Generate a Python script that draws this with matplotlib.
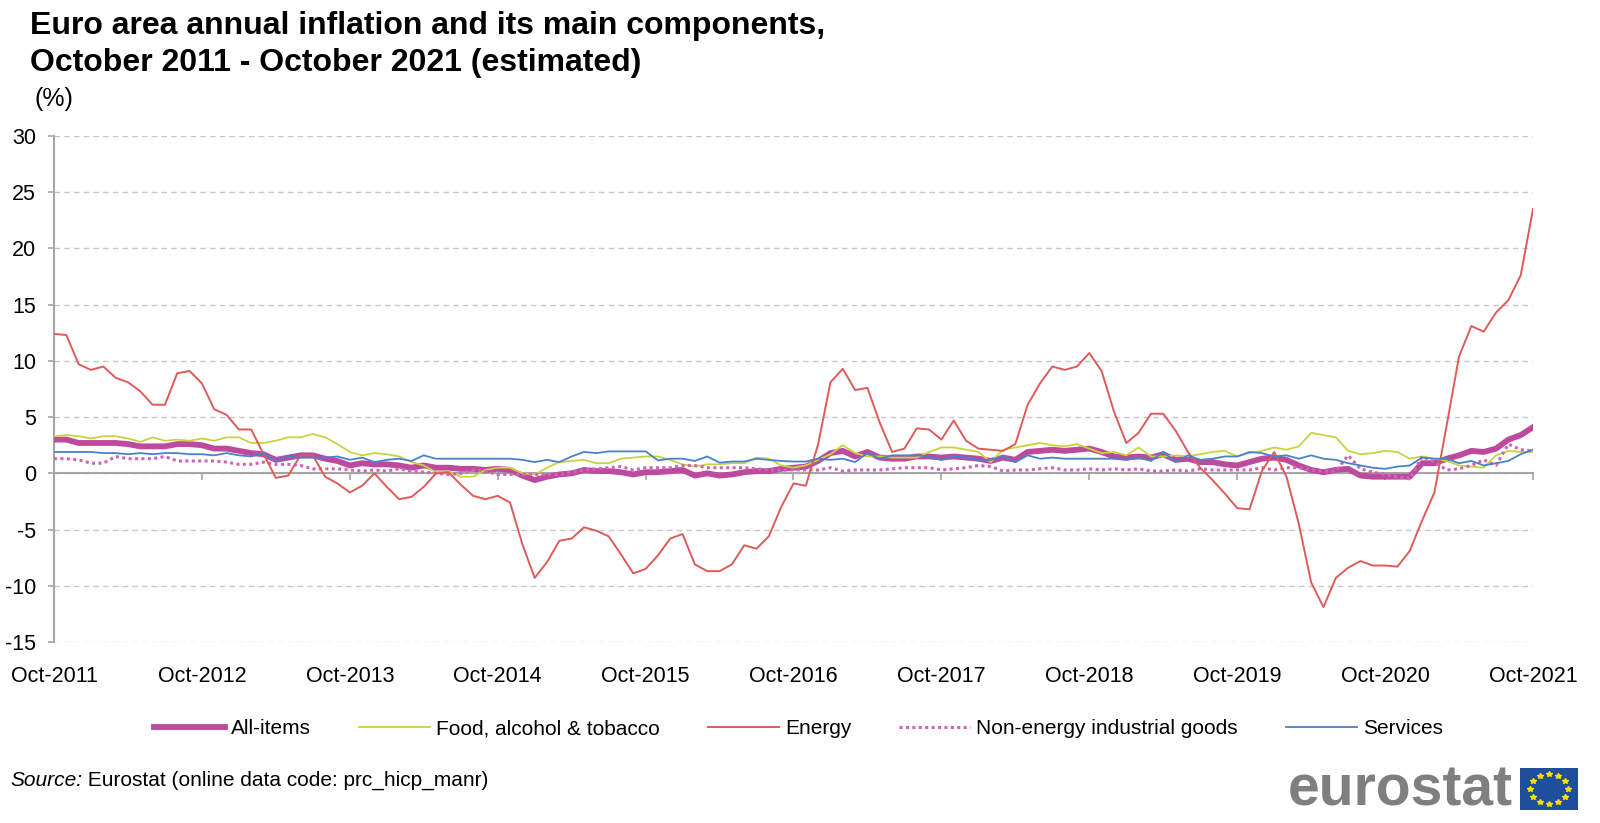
import matplotlib

matplotlib.use("Agg")
import matplotlib.pyplot as plt
import numpy as np
from matplotlib.lines import Line2D

plt.rcParams["font.family"] = ["Liberation Sans", "DejaVu Sans"]
plt.rcParams["axes.unicode_minus"] = False

# monthly annual rates (%), Oct-2011 .. Oct-2021
tick_labels = [f"Oct-{y}" for y in range(2011, 2022)]

all_items = [
    3.0, 3.0, 2.7,
    2.7, 2.7, 2.7, 2.6, 2.4, 2.4, 2.4, 2.6, 2.6, 2.5, 2.2, 2.2,
    2.0, 1.8, 1.7, 1.2, 1.4, 1.6, 1.6, 1.3, 1.1, 0.7, 0.9, 0.8,
    0.8, 0.7, 0.5, 0.7, 0.5, 0.5, 0.4, 0.4, 0.3, 0.4, 0.3, -0.2,
    -0.6, -0.3, -0.1, 0.0, 0.3, 0.2, 0.2, 0.1, -0.1, 0.1, 0.1, 0.2,
    0.3, -0.2, 0.0, -0.2, -0.1, 0.1, 0.2, 0.2, 0.4, 0.5, 0.6, 1.1,
    1.8, 2.0, 1.5, 1.9, 1.4, 1.3, 1.3, 1.5, 1.5, 1.4, 1.5, 1.4,
    1.3, 1.1, 1.4, 1.2, 1.9, 2.0, 2.1, 2.0, 2.1, 2.2, 1.9, 1.5,
    1.4, 1.5, 1.4, 1.7, 1.2, 1.3, 1.0, 1.0, 0.8, 0.7, 1.0, 1.3,
    1.4, 1.2, 0.7, 0.3, 0.1, 0.3, 0.4, -0.2, -0.3, -0.3, -0.3, -0.3,
    0.9, 0.9, 1.3, 1.6, 2.0, 1.9, 2.2, 3.0, 3.4, 4.1,
]

food = [
    3.3, 3.4, 3.3,
    3.1, 3.3, 3.3, 3.1, 2.8, 3.2, 2.9, 3.0, 2.9, 3.1, 2.9, 3.2,
    3.2, 2.7, 2.7, 2.9, 3.2, 3.2, 3.5, 3.2, 2.6, 1.9, 1.6, 1.8,
    1.7, 1.5, 1.0, 0.7, 0.1, 0.2, -0.3, -0.3, 0.3, 0.5, 0.5, 0.0,
    -0.1, 0.5, 1.0, 1.1, 1.2, 0.9, 0.9, 1.3, 1.4, 1.5, 1.5, 1.2,
    0.8, 0.6, 0.8, 0.8, 0.9, 0.9, 1.4, 1.3, 0.7, 0.5, 0.7, 1.2,
    1.7, 2.5, 1.8, 1.5, 1.5, 1.4, 1.4, 1.4, 1.9, 2.3, 2.3, 2.1,
    1.9, 1.0, 2.1, 2.3, 2.5, 2.7, 2.5, 2.4, 2.6, 2.2, 1.8, 1.9,
    1.6, 2.3, 1.5, 1.5, 1.6, 1.5, 1.7, 1.9, 2.0, 1.5, 1.8, 2.0,
    2.3, 2.1, 2.4, 3.6, 3.4, 3.2, 2.0, 1.7, 1.8, 2.0, 1.9, 1.3,
    1.5, 1.3, 1.1, 0.7, 0.6, 0.5, 1.6, 2.0, 1.9, 1.9,
]

energy = [
    12.4, 12.3, 9.7,
    9.2, 9.5, 8.5, 8.1, 7.3, 6.1, 6.1, 8.9, 9.1, 8.0, 5.7, 5.2,
    3.9, 3.9, 1.7, -0.4, -0.2, 1.6, 1.6, -0.3, -0.9, -1.7, -1.1, 0.0,
    -1.2, -2.3, -2.1, -1.2, 0.0, 0.1, -1.0, -2.0, -2.3, -2.0, -2.6, -6.3,
    -9.3, -7.9, -6.0, -5.8, -4.8, -5.1, -5.6, -7.2, -8.9, -8.5, -7.3, -5.8,
    -5.4, -8.1, -8.7, -8.7, -8.1, -6.4, -6.7, -5.6, -3.0, -0.9, -1.1, 2.6,
    8.1, 9.3, 7.4, 7.6, 4.5, 1.9, 2.2, 4.0, 3.9, 3.0, 4.7, 2.9,
    2.2, 2.1, 2.0, 2.6, 6.1, 8.0, 9.5, 9.2, 9.5, 10.7, 9.1, 5.5,
    2.7, 3.6, 5.3, 5.3, 3.8, 1.9, 0.5, -0.6, -1.8, -3.1, -3.2, 0.2,
    1.9, -0.3, -4.5, -9.7, -11.9, -9.3, -8.4, -7.8, -8.2, -8.2, -8.3, -6.9,
    -4.2, -1.7, 4.3, 10.4, 13.1, 12.6, 14.3, 15.4, 17.6, 23.5,
]

neig = [
    1.3, 1.3, 1.2,
    0.9, 0.9, 1.5, 1.3, 1.3, 1.3, 1.5, 1.1, 1.1, 1.1, 1.1, 1.0,
    0.8, 0.8, 1.0, 0.8, 0.8, 0.7, 0.4, 0.4, 0.4, 0.3, 0.2, 0.3,
    0.2, 0.4, 0.2, 0.1, 0.0, -0.1, 0.0, 0.3, 0.2, -0.1, -0.1, -0.1,
    -0.1, -0.1, -0.1, 0.1, 0.3, 0.4, 0.5, 0.6, 0.3, 0.5, 0.5, 0.5,
    0.7, 0.7, 0.5, 0.5, 0.5, 0.5, 0.4, 0.3, 0.3, 0.3, 0.3, 0.3,
    0.5, 0.2, 0.3, 0.3, 0.3, 0.4, 0.5, 0.5, 0.5, 0.3, 0.4, 0.5,
    0.7, 0.6, 0.2, 0.3, 0.3, 0.4, 0.5, 0.3, 0.3, 0.4, 0.3, 0.4,
    0.3, 0.4, 0.2, 0.2, 0.3, 0.2, 0.4, 0.3, 0.3, 0.3, 0.3, 0.5,
    0.3, 0.5, 0.5, 0.3, 0.2, 0.2, 1.6, 0.4, 0.1, -0.1, -0.3, -0.5,
    1.5, 1.0, 0.3, 0.4, 0.7, 1.2, 0.7, 2.6, 2.1, 2.0,
]

services = [
    1.9, 1.9, 1.9,
    1.9, 1.8, 1.8, 1.7, 1.8, 1.7, 1.8, 1.8, 1.7, 1.7, 1.6, 1.8,
    1.6, 1.5, 1.8, 1.1, 1.5, 1.4, 1.4, 1.4, 1.5, 1.2, 1.4, 1.0,
    1.2, 1.3, 1.1, 1.6, 1.3, 1.3, 1.3, 1.3, 1.3, 1.3, 1.3, 1.2,
    1.0, 1.2, 1.0, 1.5, 1.9, 1.8, 1.95, 1.95, 1.95, 1.95, 1.15, 1.3,
    1.3, 1.1, 1.5, 0.95, 1.05, 1.05, 1.3, 1.2, 1.1, 1.05, 1.05, 1.3,
    1.2, 1.3, 1.0, 1.8, 1.3, 1.6, 1.6, 1.6, 1.5, 1.2, 1.5, 1.4,
    1.2, 1.2, 1.5, 1.0, 1.6, 1.3, 1.4, 1.3, 1.3, 1.3, 1.3, 1.3,
    1.2, 1.4, 1.1, 1.9, 1.0, 1.6, 1.2, 1.3, 1.5, 1.5, 1.9, 1.8,
    1.5, 1.6, 1.3, 1.6, 1.3, 1.2, 0.9, 0.7, 0.5, 0.4, 0.6, 0.7,
    1.4, 1.3, 1.3, 0.9, 1.1, 0.7, 0.9, 1.1, 1.7, 2.1,
]

C_ALL = "#BE4A9E"
C_FOOD = "#C9D33F"
C_ENERGY = "#DE5B5B"
C_NEIG = "#D064B6"
C_SERV = "#4A82C8"
C_AXIS = "#A6A6A6"

months = np.arange(len(all_items))

fig = plt.figure(figsize=(16, 8.23), dpi=100)
W, H = 1600, 823
ax = fig.add_axes([54 / W, 1 - 642 / H, (1533 - 54) / W, (642 - 136) / H])

ax.plot(months, all_items, color=C_ALL, lw=4.2, solid_joinstyle="round", zorder=3)
ax.plot(months, food, color=C_FOOD, lw=1.3, zorder=4)
ax.plot(months, energy, color=C_ENERGY, lw=1.4, zorder=5)
ax.plot(months, neig, color=C_NEIG, lw=2.2, linestyle=(0, (1, 1.1)),
        dash_capstyle="butt", zorder=4)
ax.plot(months, services, color=C_SERV, lw=1.3, zorder=6)

ax.set_xlim(0, 120)
ax.set_ylim(-15, 30)
ax.set_yticks(range(-15, 31, 5))
ax.yaxis.grid(True, linestyle=(0, (4, 3)), color="#C8C8C8", lw=1.0)
ax.set_axisbelow(True)

for s in ("top", "right"):
    ax.spines[s].set_visible(False)
ax.spines["bottom"].set_position(("data", 0))
for s in ("bottom", "left"):
    ax.spines[s].set_color(C_AXIS)
    ax.spines[s].set_linewidth(1.5)
    ax.spines[s].set_zorder(2)

ax.set_xticks(range(0, 121, 12))
ax.tick_params(axis="x", direction="out", length=5, width=1.2, color=C_AXIS,
               labelbottom=False)
ax.tick_params(axis="y", direction="out", length=4, width=1.2, color=C_AXIS,
               labelsize=15.5, pad=9)

sec = ax.secondary_xaxis("bottom")
sec.set_xticks(range(0, 121, 12), labels=tick_labels)
sec.tick_params(length=0, labelsize=15.5, pad=17)
sec.spines["bottom"].set_visible(False)

# titles
fig.text(30 / W, 1 - 11 / H,
         "Euro area annual inflation and its main components,\n"
         "October 2011 - October 2021 (estimated)",
         fontsize=23, fontweight="bold", va="top", ha="left", linespacing=1.3)
fig.text(35 / W, 1 - 99 / H, "(%)", fontsize=18, va="center", ha="left")

# legend
handles = [
    Line2D([], [], color=C_ALL, lw=4.2),
    Line2D([], [], color=C_FOOD, lw=1.3),
    Line2D([], [], color=C_ENERGY, lw=1.4),
    Line2D([], [], color=C_NEIG, lw=2.2, linestyle=(0, (1, 1.1)), dash_capstyle="butt"),
    Line2D([], [], color=C_SERV, lw=1.3),
]
labels = ["All-items", "Food, alcohol & tobacco", "Energy",
          "Non-energy industrial goods", "Services"]
fig.legend(handles, labels, loc="center", bbox_to_anchor=(0.499, 1 - 729 / H),
           ncol=5, frameon=False, fontsize=15, handlelength=3.4,
           handletextpad=0.3, columnspacing=2.3)

# source line
t_src = fig.text(10 / W, 1 - 780 / H, "Source:", fontsize=15, style="italic",
                 va="center", ha="left")
ax.annotate(" Eurostat (online data code: prc_hicp_manr)", xy=(1, 0.5),
            xycoords=t_src, va="center", ha="left", fontsize=15,
            annotation_clip=False)

# eurostat logo
fig.text(1513 / W, 1 - 790 / H, "eurostat", fontsize=41, fontweight="bold",
         color="#7F7F7F", ha="right", va="center")
flag = fig.add_axes([1520 / W, 1 - 810 / H, 58 / W, 42 / H])
flag.set_facecolor("#1F4E9C")
ang = np.linspace(0, 2 * np.pi, 12, endpoint=False)
flag.plot(0.5 + 0.32 * np.cos(ang), 0.5 + 0.36 * np.sin(ang), linestyle="none",
          marker="*", markersize=4, color="#FFDD00")
flag.set_xlim(0, 1)
flag.set_ylim(0, 1)
flag.set_xticks([])
flag.set_yticks([])
for s in flag.spines.values():
    s.set_visible(False)

fig.savefig("out.png", dpi=100)
